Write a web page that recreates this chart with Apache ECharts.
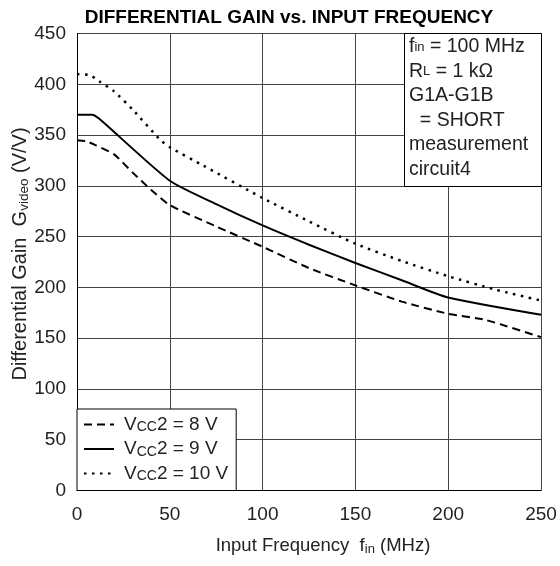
<!DOCTYPE html>
<html>
<head>
<meta charset="utf-8">
<script src="https://cdn.jsdelivr.net/npm/echarts@6/dist/echarts.min.js"></script>
<style>html,body{margin:0;padding:0;background:#fff}#c{width:560px;height:566px}</style>
</head>
<body>
<div id="c"></div>
<script>
var xTicks = [0, 50, 100, 150, 200, 250];
var yTicks = [0, 50, 100, 150, 200, 250, 300, 350, 400, 450];

var freq8 = [0, 5, 10, 20, 30, 40, 50, 75, 100, 125, 150, 175, 200, 220, 250];
var gain8 = [345, 344, 340, 331, 313, 296, 281, 260, 240, 219, 202, 186, 174, 168, 151];

var freq9 = [0, 8, 12, 50, 75, 100, 125, 150, 175, 200, 250];
var gain9 = [370, 370, 366, 305, 282, 261, 242, 224, 207, 190, 173];

var freq10 = [0, 7, 12, 20, 30, 45, 50, 68, 100, 125, 150, 175, 200, 225, 250];
var gain10 = [410, 409, 403, 393, 375, 345, 338, 320, 288, 265, 243, 226, 211, 198, 187];

var seriesNames = ['Vcc2 = 8 V', 'Vcc2 = 9 V', 'Vcc2 = 10 V'];

function pairs(xs, ys) { return xs.map(function (x, i) { return [x, ys[i]]; }); }

var FONT = 'Liberation Sans, Arial, sans-serif';
var TXT = '#222';
var chart = echarts.init(document.getElementById('c'), null, { renderer: 'canvas' });

chart.setOption({
  animation: false,
  backgroundColor: '#fff',
  title: {
    text: 'DIFFERENTIAL GAIN vs. INPUT FREQUENCY',
    left: 284, top: 3, textAlign: 'center',
    textStyle: { fontFamily: FONT, fontSize: 19, fontWeight: 'bold', color: '#000' }
  },
  grid: { left: 77, right: 19, top: 33.5, bottom: 75.5, containLabel: false, outerBoundsMode: 'none' },
  xAxis: {
    type: 'value', min: 0, max: 250, interval: 50,
    name: '{a|Input Frequency  f}{s|in}{a| (MHz)}',
    nameLocation: 'middle', nameGap: 45,
    nameTextStyle: { padding: [0, 0, 0, 28], rich: { a: { fontFamily: FONT, fontSize: 18.5, color: TXT, lineHeight: 20 }, s: { fontFamily: FONT, fontSize: 13, color: TXT, lineHeight: 20, verticalAlign: 'bottom' } } },
    axisLine: { show: true, onZero: false, lineStyle: { color: '#000', width: 1 } },
    axisTick: { show: false },
    axisLabel: { fontFamily: FONT, fontSize: 19, color: TXT, margin: 15 },
    splitLine: { show: true, lineStyle: { color: '#444', width: 1 } }
  },
  yAxis: {
    type: 'value', min: 0, max: 450, interval: 50,
    name: '{a|Differential Gain  G}{s|video}{a| (V/V)}',
    nameLocation: 'middle', nameGap: 46, nameMoveOverlap: false,
    nameTextStyle: { padding: [0, 0, 0, 16], rich: { a: { fontFamily: FONT, fontSize: 20, color: TXT, lineHeight: 21 }, s: { fontFamily: FONT, fontSize: 13.5, color: TXT, lineHeight: 21, verticalAlign: 'bottom' } } },
    axisLine: { show: true, lineStyle: { color: '#000', width: 1 } },
    axisTick: { show: false },
    axisLabel: { fontFamily: FONT, fontSize: 19, color: TXT, margin: 11 },
    splitLine: { show: true, lineStyle: { color: '#444', width: 1 } }
  },
  legend: {
    orient: 'vertical', left: 77, top: 409, z: 50,
    backgroundColor: '#fff', borderColor: '#000', borderWidth: 1, borderRadius: 0,
    padding: [6, 8, 7, 6], itemGap: 5,
    itemWidth: 30, itemHeight: 14,
    itemStyle: { opacity: 0 },
    data: seriesNames,
    formatter: function (n) { return '{a|V}{s|CC}{a|' + n.slice(3) + '}'; },
    textStyle: {
      padding: [0, 0, 0, 5],
      rich: {
        a: { fontFamily: FONT, fontSize: 19, color: TXT, lineHeight: 20 },
        s: { fontFamily: FONT, fontSize: 14, color: TXT, lineHeight: 20, verticalAlign: 'bottom' }
      }
    },
    selectedMode: false
  },
  graphic: [
    { type: 'rect', z: 100, left: 404, top: 33, shape: { x: 0, y: 0, width: 137, height: 153 },
      style: { fill: '#fff', stroke: '#000', lineWidth: 1 } },
    { type: 'text', z: 101, left: 409, top: 37, style: {
        text: '{a|f}{s|in}{a| = 100 MHz}\n{a|R}{s|L}{a| = 1 kΩ}\n{a|G1A-G1B}\n{a|  = SHORT}\n{a|measurement}\n{a|circuit4}',
        rich: {
          a: { fontFamily: FONT, fontSize: 19.5, fill: TXT, lineHeight: 24.5 },
          s: { fontFamily: FONT, fontSize: 13, fill: TXT, lineHeight: 24.5 }
        }
    } }
  ],
  series: [
    { name: seriesNames[0], type: 'line', data: pairs(freq8, gain8), symbol: 'none', smooth: 0.2,
      lineStyle: { color: '#000', width: 2, type: [8, 5] }, itemStyle: { color: '#000' } },
    { name: seriesNames[1], type: 'line', data: pairs(freq9, gain9), symbol: 'none', smooth: 0.2,
      lineStyle: { color: '#000', width: 2, type: 'solid' }, itemStyle: { color: '#000' } },
    { name: seriesNames[2], type: 'line', data: pairs(freq10, gain10), symbol: 'none', smooth: 0.2,
      lineStyle: { color: '#000', width: 2.5, type: [2.5, 5.5] }, itemStyle: { color: '#000' } }
  ]
});
</script>
</body>
</html>
